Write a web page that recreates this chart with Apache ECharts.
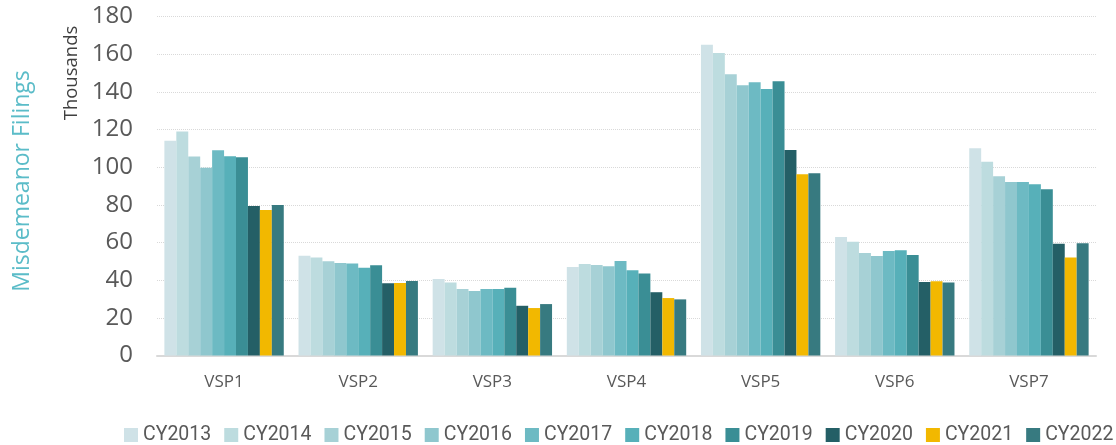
<!DOCTYPE html>
<html>
<head>
<meta charset="utf-8">
<script src="https://cdn.jsdelivr.net/npm/echarts@6/dist/echarts.min.js"></script>
<style>
html, body { margin: 0; padding: 0; background: #fff; }
#chart { width: 1116px; height: 445px; }
</style>
</head>
<body>
<div id="chart"></div>
<script>
// categories and series values (thousands)
var categories = ['VSP1', 'VSP2', 'VSP3', 'VSP4', 'VSP5', 'VSP6', 'VSP7'];
var years = ['CY2013', 'CY2014', 'CY2015', 'CY2016', 'CY2017', 'CY2018', 'CY2019', 'CY2020', 'CY2021', 'CY2022'];
var cy2013 = [114, 53, 40.6, 47, 165, 62.9, 110];
var cy2014 = [119, 52.1, 38.7, 48.6, 160.6, 60.4, 102.9];
var cy2015 = [105.6, 50, 35.3, 48.1, 149.3, 54.4, 95.2];
var cy2016 = [99.7, 49.1, 34.3, 47.4, 143.5, 52.8, 92.1];
var cy2017 = [109, 48.8, 35.3, 50.2, 145.1, 55.5, 92.1];
var cy2018 = [105.8, 46.6, 35.3, 45.2, 141.5, 55.9, 90.9];
var cy2019 = [105.2, 47.9, 36, 43.6, 145.6, 53.4, 88.3];
var cy2020 = [79.4, 38.3, 26.4, 33.6, 109.1, 39, 59.4];
var cy2021 = [77.3, 38.5, 25.2, 30.5, 96.2, 39.4, 52.1];
var cy2022 = [79.9, 39.6, 27.3, 29.8, 96.8, 38.7, 59.6];
var yTicks = [0, 20, 40, 60, 80, 100, 120, 140, 160, 180];

var values = [cy2013, cy2014, cy2015, cy2016, cy2017, cy2018, cy2019, cy2020, cy2021, cy2022];
var colors = ['#cfe2e7', '#bddcdf', '#a7d1d6', '#8fc7ce', '#6dbac3', '#57b0b9', '#3a8e95', '#245f66', '#f2b800', '#377a80'];

var myChart = echarts.init(document.getElementById('chart'));

var series = years.map(function(name, i) {
	return {
		name: name,
		type: 'bar',
		data: values[i],
		barGap: '0%',
		barCategoryGap: '11%',
		itemStyle: { color: colors[i] },
		emphasis: { disabled: true }
	};
});

var option = {
	animation: false,
	color: colors,
	grid: {
		left: 157,
		right: 20,
		top: 16.5,
		bottom: 89.5
	},
	legend: {
		left: 119,
		top: 420,
		width: 1000,
		icon: 'rect',
		itemWidth: 14,
		itemHeight: 14,
		itemGap: 13,
		textStyle: {
			color: '#595959',
			fontSize: 19.5,
			fontFamily: 'Roboto'
		},
		data: years
	},
	xAxis: {
		type: 'category',
		data: categories,
		axisLine: { lineStyle: { color: '#d9d9d9', width: 2 } },
		axisTick: { show: false },
		axisLabel: {
			color: '#595959',
			fontSize: 17,
			fontFamily: 'Open Sans',
			margin: 18
		}
	},
	yAxis: {
		type: 'value',
		min: yTicks[0],
		max: yTicks[yTicks.length - 1],
		interval: 20,
		axisLine: { show: false },
		axisTick: { show: false },
		axisLabel: {
			color: '#595959',
			fontSize: 24,
			fontFamily: 'Open Sans',
			margin: 24
		},
		splitLine: {
			lineStyle: { color: '#d9d9d9', type: 'dotted', width: 1 }
		}
	},
	graphic: [
		{
			type: 'text',
			x: 22,
			y: 181,
			rotation: Math.PI / 2,
			style: {
				text: 'Misdemeanor Filings',
				fill: '#5bbcc8',
				fontSize: 23,
				fontFamily: 'Open Sans',
				align: 'center',
				verticalAlign: 'middle'
			}
		},
		{
			type: 'text',
			x: 72,
			y: 73,
			rotation: Math.PI / 2,
			style: {
				text: 'Thousands',
				fill: '#404040',
				fontSize: 18.5,
				fontFamily: 'Open Sans',
				align: 'center',
				verticalAlign: 'middle'
			}
		}
	],
	series: series
};

myChart.setOption(option);
</script>
</body>
</html>
